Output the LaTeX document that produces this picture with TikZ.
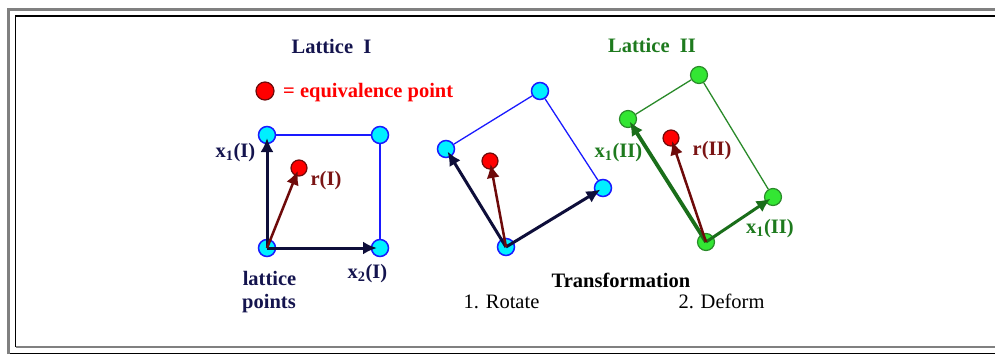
\documentclass[tikz,border=0pt]{standalone}
\usepackage{fontspec}
\setmainfont{Liberation Serif}
\newfontfamily\tnr{Liberation Serif}
\usetikzlibrary{arrows.meta}
\definecolor{navy}{HTML}{14144E}
\definecolor{navyarr}{HTML}{0E0E3A}
\definecolor{dred}{HTML}{6E0A0A}
\definecolor{rlab}{HTML}{7A1414}
\definecolor{gtitle}{HTML}{1E7A1E}
\definecolor{gfill}{HTML}{33E633}
\definecolor{gline}{HTML}{2A8A2A}
\definecolor{garr}{HTML}{1A6E1A}
\definecolor{cyanf}{HTML}{00F0FF}
\definecolor{bline}{HTML}{1A1AFF}
\definecolor{framegray}{HTML}{808080}
\begin{document}
\begin{tikzpicture}[x=1pt,y=-1pt,
  txt/.style={font=\tnr\fontsize{20.5}{24}\selectfont\bfseries, inner sep=0pt},
  plain/.style={font=\tnr\fontsize{20.5}{24}\selectfont, inner sep=0pt},
  cpt/.style={circle, draw=bline, fill=cyanf, line width=1.5pt, minimum size=17pt, inner sep=0pt},
  gpt/.style={circle, draw=gline, fill=gfill, line width=1.2pt, minimum size=17pt, inner sep=0pt},
  rpt/.style={circle, draw=dred, fill=red, line width=1.2pt, minimum size=16pt, inner sep=0pt},
  bedge/.style={draw=bline, line width=1.3pt},
  gedge/.style={draw=gline, line width=1.3pt},
  varr/.style={-{Latex[length=14pt,width=13pt]}, line width=3pt, shorten >=3pt},
]
\useasboundingbox (0,0) rectangle (995,354);
% frame
\draw[framegray, line width=3pt] (8.5,354) -- (8.5,9) -- (995,9);
\draw[black, line width=1.5pt] (10,353.3) -- (995,353.3);
\draw[black, line width=1.3pt] (15.5,347) -- (15.5,16) -- (995,16);
\draw[framegray, line width=1.5pt] (16,347) -- (995,347);

% titles and legend
\node[txt, text=navy, anchor=base] (t1) at (331.5,53) {Lattice \ I};
\node[txt, text=gtitle, anchor=base] (t2) at (652,52) {Lattice \ II};
\node[rpt, minimum size=18pt] (leg) at (265,91) {};
\node[txt, text=red, anchor=base west] (legt) at (283,97) {= equivalence point};

% Lattice I
\node[cpt] (a0) at (267,248) {};
\node[cpt] (a1) at (267,135) {};
\node[cpt] (a2) at (380,248) {};
\node[cpt] (a3) at (380,135) {};
\node[rpt] (ar) at (299,168) {};
\draw[bedge] (a1) -- (a3);
\draw[bedge] (a3) -- (a2);
\draw[varr, navyarr] (a0.center) -- (a1.center);
\draw[varr, navyarr] (a0.center) -- (a2.center);
\draw[varr, dred, line width=2.5pt] (a0.center) -- (ar.center);
\node[txt, text=navy, anchor=base] (x1a) at (235.5,157) {x\textsubscript{1}(I)};
\node[txt, text=rlab, anchor=base] (rla) at (326,185) {r(I)};
\node[txt, text=navy, anchor=base] (x2a) at (367.5,278) {x\textsubscript{2}(I)};
\node[txt, text=navy, anchor=base] (lp1) at (269.5,285) {lattice};
\node[txt, text=navy, anchor=base] (lp2) at (269,308) {points};

% Rotated lattice
\node[cpt] (b0) at (506,247) {};
\node[cpt] (b1) at (446,149) {};
\node[cpt] (b2) at (603,188) {};
\node[cpt] (b3) at (540,91) {};
\node[rpt] (br) at (490,161) {};
\draw[bedge] (b1) -- (b3);
\draw[bedge] (b3) -- (b2);
\draw[varr, navyarr] (b0.center) -- (b1.center);
\draw[varr, navyarr] (b0.center) -- (b2.center);
\draw[varr, dred, line width=2.5pt] (b0.center) -- (br.center);

% Deformed lattice
\node[gpt] (c0) at (706,242) {};
\node[gpt] (c1) at (628,119) {};
\node[gpt] (c2) at (773,197) {};
\node[gpt] (c3) at (699,75) {};
\node[rpt] (cr) at (671,138) {};
\draw[gedge] (c1) -- (c3);
\draw[gedge] (c3) -- (c2);
\draw[varr, garr, line width=3.8pt] (c0.center) -- (c1.center);
\draw[varr, garr] (c0.center) -- (c2.center);
\draw[varr, dred, line width=2.5pt] (c0.center) -- (cr.center);
\node[txt, text=gtitle, anchor=base] (x1b) at (618.5,157) {x\textsubscript{1}(II)};
\node[txt, text=rlab, anchor=base] (rlb) at (712,155) {r(II)};
\node[txt, text=gtitle, anchor=base] (x1c) at (770,233) {x\textsubscript{1}(II)};

% transformation text
\node[txt, anchor=base] (tr) at (621,287) {Transformation};
\node[plain, anchor=base] (rot) at (501.5,308) {1. Rotate};
\node[plain, anchor=base] (def) at (721.5,308) {2. Deform};
\end{tikzpicture}
\end{document}
